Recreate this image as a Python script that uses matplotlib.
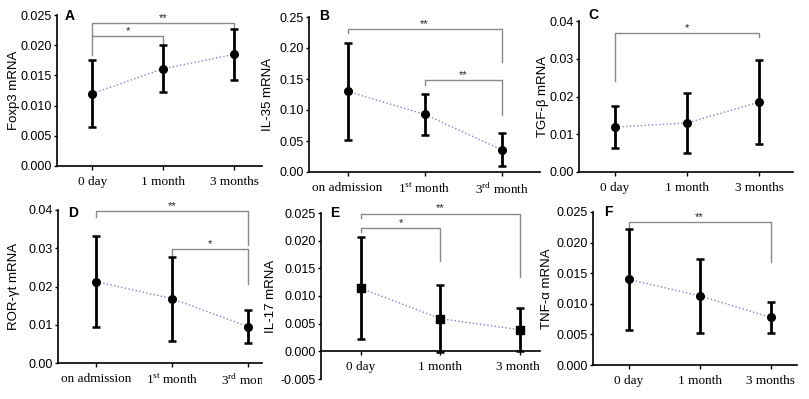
import matplotlib
matplotlib.use('Agg')
import matplotlib.pyplot as plt
from matplotlib.ticker import FormatStrFormatter
from matplotlib.transforms import blended_transform_factory, Bbox, TransformedBbox

plt.rcParams['font.family'] = ['Liberation Sans', 'DejaVu Sans']
plt.rcParams['mathtext.fontset'] = 'custom'
plt.rcParams['mathtext.rm'] = 'Liberation Serif'

# 数据（从图中读取：均值 ± SD）
time_labels = ['0 day', '1 month', '3 months']
adm_labels = ['on admission', '1$^{\\mathrm{st}}$ month', '3$^{\\mathrm{rd}}$ month']

foxp3_mean = [0.0120, 0.0161, 0.0185]
foxp3_sd = [0.0056, 0.0039, 0.0042]
foxp3_sig = [(0, 2, 0.0237, 0.0215, 0.0227, '**'), (0, 1, 0.0215, 0.0184, 0.0199, '*')]

il35_mean = [0.130, 0.093, 0.036]
il35_sd = [0.078, 0.033, 0.027]
il35_sig = [(0, 2, 0.2306, 0.224, 0.178, '**'), (1, 2, 0.1485, 0.140, 0.092, '**')]

tgfb_mean = [0.0119, 0.0130, 0.0185]
tgfb_sd = [0.0055, 0.0079, 0.0112]
tgfb_sig = [(0, 2, 0.0367, 0.0241, 0.0357, '*')]

rorgt_mean = [0.0213, 0.0168, 0.0095]
rorgt_sd = [0.0120, 0.0110, 0.0043]
rorgt_sig = [(0, 2, 0.0397, 0.0381, 0.0309, '**'), (1, 2, 0.0298, 0.0281, 0.0206, '*')]

il17_mean = [0.0114, 0.0059, 0.0039]
il17_sd = [0.0092, 0.0061, 0.0039]
il17_sig = [(0, 2, 0.0249, 0.0241, 0.0134, '**'), (0, 1, 0.0223, 0.0216, 0.0164, '*')]

tnfa_mean = [0.0140, 0.0113, 0.0078]
tnfa_sd = [0.0082, 0.0061, 0.0025]
tnfa_sig = [(0, 2, 0.0234, 0.0223, 0.0168, '**')]

W, H = 809, 399
fig = plt.figure(figsize=(W / 100, H / 100), dpi=100)


def px_axes(left, right, top, bottom):
    return fig.add_axes([left / W, 1 - bottom / H, (right - left) / W, (bottom - top) / H])


def draw_panel(ax, mean, sd, sig, labels, ylabel, letter, ylim, ystep, fmt,
               xright, marker='o', label_x=None, letter_xy=None, clip_x=None,
               zero_axis=False):
    if zero_axis:
        ax.spines['bottom'].set_position(('data', 0))
    x = list(range(len(mean)))
    ax.plot(x, mean, ':', color='#8585c8', lw=1.0, zorder=2)
    ax.errorbar(x, mean, yerr=sd, fmt='none', ecolor='black', elinewidth=2.0,
                capsize=3, capthick=1.8, zorder=3)
    ax.plot(x, mean, marker, color='black', ms=5.5, ls='none', zorder=4)

    for x1, x2, y, yl, yr, txt in sig:
        ax.plot([x1, x1, x2, x2], [yl, y, y, yr], color='#8a8a8a', lw=1.0,
                zorder=1, clip_on=False)
        ax.text((x1 + x2) / 2, y, txt, ha='center', va='bottom', fontsize=8,
                color='#222222')

    ax.set_xlim(-0.5, xright)
    ax.set_ylim(*ylim)
    ticks = []
    v = ylim[0]
    while v <= ylim[1] + 1e-9:
        ticks.append(round(v, 6))
        v += ystep
    ax.set_yticks(ticks)
    ax.yaxis.set_major_formatter(FormatStrFormatter(fmt))
    ax.set_xticks(x)
    ax.set_xticklabels(labels, family=['Liberation Serif'], fontsize=9.5)

    for s in ['top', 'right']:
        ax.spines[s].set_visible(False)
    for s in ['left', 'bottom']:
        ax.spines[s].set_linewidth(1.2)
    ax.tick_params(axis='y', length=2.5, width=1.0, pad=1, labelsize=9)
    ax.tick_params(axis='x', length=3, width=1.0, pad=4)

    ax.set_ylabel(ylabel, fontsize=9.5)
    trans = blended_transform_factory(fig.transFigure, ax.transAxes)
    ax.yaxis.set_label_coords(label_x / W, 0.5, transform=trans)
    fig.text(letter_xy[0] / W, 1 - letter_xy[1] / H, letter, fontsize=10,
             fontweight='bold', ha='left', va='center')

    if clip_x is not None:
        box = TransformedBbox(Bbox([[0, 0], [clip_x / W, 1]]), fig.transFigure)
        for t in ax.get_xticklabels():
            t.set_clip_box(box)
            t.set_clip_on(True)


axA = px_axes(57, 262, 15, 166)
draw_panel(axA, foxp3_mean, foxp3_sd, foxp3_sig, time_labels, 'Foxp3 mRNA', 'A',
           (0, 0.025), 0.005, '%.3f', 2.39, label_x=20, letter_xy=(65, 16))

axB = px_axes(309, 540, 17, 172)
draw_panel(axB, il35_mean, il35_sd, il35_sig, adm_labels, 'IL-35 mRNA', 'B',
           (0, 0.25), 0.05, '%.2f', 2.5, label_x=274, letter_xy=(319, 16))

axC = px_axes(579, 793, 21, 172)
draw_panel(axC, tgfb_mean, tgfb_sd, tgfb_sig, time_labels, 'TGF-β mRNA', 'C',
           (0, 0.04), 0.01, '%.2f', 2.47, label_x=549, letter_xy=(588, 15))

axD = px_axes(58, 262, 210, 363)
draw_panel(axD, rorgt_mean, rorgt_sd, rorgt_sig, adm_labels, 'ROR-γt mRNA', 'D',
           (0, 0.04), 0.01, '%.2f', 2.18, label_x=20, letter_xy=(68, 213),
           clip_x=262)

axE = px_axes(321, 540, 213, 379)
draw_panel(axE, il17_mean, il17_sd, il17_sig, time_labels, 'IL-17 mRNA', 'E',
           (-0.005, 0.025), 0.005, '%.3f', 2.25, marker='s', label_x=277,
           letter_xy=(330, 213), clip_x=540, zero_axis=True)

axF = px_axes(593, 797, 212, 365)
draw_panel(axF, tnfa_mean, tnfa_sd, tnfa_sig, time_labels, 'TNF-α mRNA', 'F',
           (0, 0.025), 0.005, '%.3f', 2.37, label_x=553, letter_xy=(604, 212))

fig.savefig('out.png', dpi=100)
